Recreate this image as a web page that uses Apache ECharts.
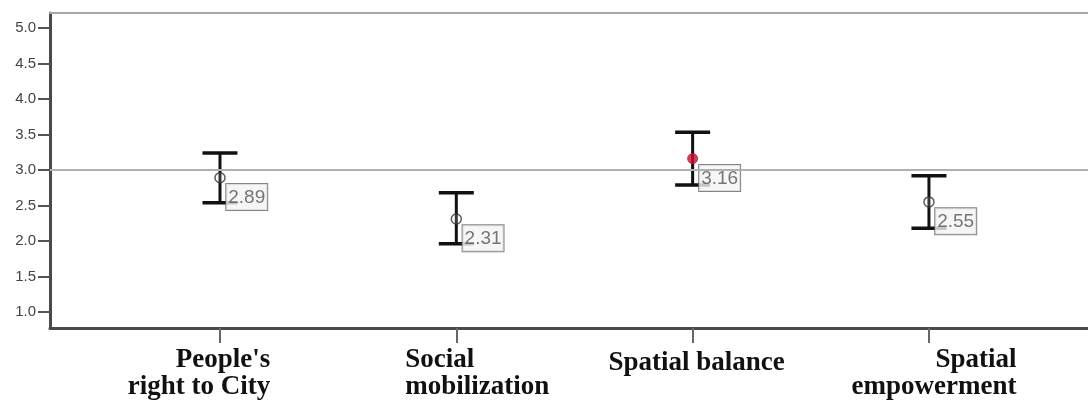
<!DOCTYPE html>
<html>
<head>
<meta charset="utf-8">
<script src="https://cdn.jsdelivr.net/npm/echarts@6/dist/echarts.min.js"></script>
<style>
html,body{margin:0;padding:0;background:#fff;}
#chart{width:1088px;height:403px;}
</style>
</head>
<body>
<div id="chart"></div>
<script>
// ---- data ----
const categories = ["People's\nright to City", "Social\nmobilization", "Spatial balance", "Spatial\nempowerment"];
const means = [2.89, 2.31, 3.16, 2.55];
const lowerCI = [2.54, 1.96, 2.79, 2.18];
const upperCI = [3.24, 2.68, 3.53, 2.92];
const yTicks = [1.0, 1.5, 2.0, 2.5, 3.0, 3.5, 4.0, 4.5, 5.0];
const referenceValue = 3.0;
const highlightIndex = 2;

const catIdx = categories.map((_, i) => i);
const richNames = ['r0', 'r1', 'r2', 'r3'];

const chart = echarts.init(document.getElementById('chart'), null, {renderer: 'canvas'});

const serifBold = {fontFamily: 'Liberation Serif', fontWeight: 'bold', fontSize: 27, lineHeight: 27, color: '#111'};
const xMin = -0.7193, xMax = 3.673;

const option = {
  backgroundColor: '#ffffff',
  animation: false,
  grid: {left: 50, top: 13, right: 0, bottom: 75, show: false},
  xAxis: [
    {
      type: 'value',
      min: xMin, max: xMax,
      splitLine: {show: false},
      axisLine: {show: true, onZero: false, lineStyle: {color: '#4a4a4a', width: 3}},
      axisTick: {show: true, customValues: catIdx, length: 15, lineStyle: {color: '#666', width: 2}},
      axisLabel: {
        customValues: catIdx,
        margin: 19,
        formatter: function (v) {
          const i = Math.round(v);
          const name = richNames[i];
          return categories[i].split('\n').map(s => '{' + name + '|' + s + '}').join('\n');
        },
        rich: {
          r0: Object.assign({}, serifBold, {align: 'right', padding: [0, 42, 0, 0]}),
          r1: Object.assign({}, serifBold, {align: 'left', padding: [0, 0, 0, 42]}),
          r2: Object.assign({}, serifBold, {align: 'center', padding: [5, 0, 0, 8]}),
          r3: Object.assign({}, serifBold, {align: 'right', padding: [0, 0, 0, 10]})
        }
      }
    },
    {
      type: 'value',
      position: 'top',
      min: xMin, max: xMax,
      splitLine: {show: false},
      axisLine: {show: true, onZero: false, lineStyle: {color: '#a8a8a8', width: 2}},
      axisTick: {show: false},
      axisLabel: {show: false}
    }
  ],
  yAxis: {
    type: 'value',
    min: 0.775, max: 5.21,
    splitLine: {show: false},
    axisLine: {show: true, onZero: false, lineStyle: {color: '#4a4a4a', width: 3}},
    axisTick: {show: true, customValues: yTicks, length: 12, lineStyle: {color: '#555', width: 2}},
    axisLabel: {
      customValues: yTicks,
      margin: 14,
      fontFamily: 'Liberation Sans', fontSize: 15, color: '#444',
      formatter: v => v.toFixed(1)
    }
  },
  series: [
    {
      type: 'line',
      data: [],
      markLine: {
        silent: true,
        symbol: 'none',
        label: {show: false},
        lineStyle: {color: '#b0b0b0', width: 2, type: 'solid'},
        data: [{yAxis: referenceValue}]
      }
    },
    {
      type: 'custom',
      z: 3,
      data: catIdx.map(i => [i, lowerCI[i], upperCI[i]]),
      renderItem: function (params, api) {
        const x = api.value(0);
        const lo = api.coord([x, api.value(1)]);
        const hi = api.coord([x, api.value(2)]);
        const hw = 17.5;
        const style = {stroke: '#111', lineWidth: 3.5};
        return {
          type: 'group',
          children: [
            {type: 'line', shape: {x1: lo[0], y1: lo[1], x2: hi[0], y2: hi[1]}, style: {stroke: '#111', lineWidth: 3}},
            {type: 'line', shape: {x1: hi[0] - hw, y1: hi[1], x2: hi[0] + hw, y2: hi[1]}, style: style},
            {type: 'line', shape: {x1: lo[0] - hw, y1: lo[1], x2: lo[0] + hw, y2: lo[1]}, style: style}
          ]
        };
      }
    },
    {
      type: 'scatter',
      z: 4,
      symbol: 'circle',
      symbolSize: 10,
      data: catIdx.map(i => ({
        value: [i, means[i]],
        itemStyle: i === highlightIndex
          ? {color: '#cc1035', borderColor: '#cc1035', borderWidth: 1}
          : {color: 'rgba(255,255,255,0.2)', borderColor: '#333', borderWidth: 1.5}
      })),
      label: {
        show: true,
        position: [12, 12],
        formatter: p => p.value[1].toFixed(2),
        fontFamily: 'Liberation Sans',
        fontSize: 19,
        color: '#555',
        backgroundColor: '#f4f4f4',
        borderColor: '#666',
        borderWidth: 1,
        padding: [3, 2, 1, 2],
        lineHeight: 22
      }
    }
  ]
};
chart.setOption(option);
</script>
</body>
</html>
